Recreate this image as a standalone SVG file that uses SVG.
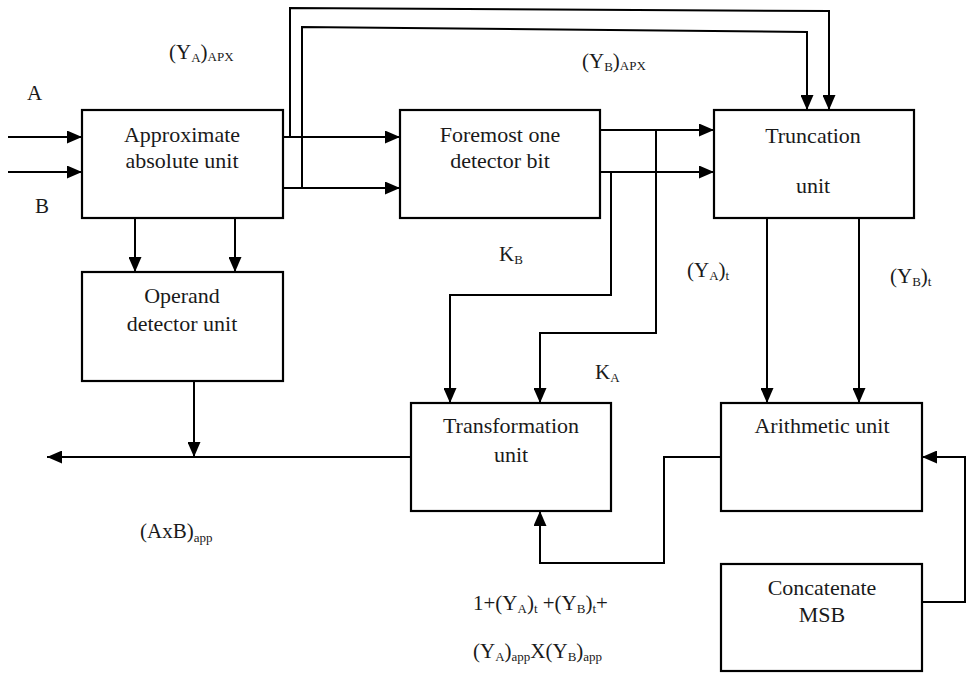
<svg xmlns="http://www.w3.org/2000/svg" width="966" height="673" viewBox="0 0 966 673">
<style>
.box{fill:#fff;stroke:#000;stroke-width:2.2}
.ln{fill:none;stroke:#000;stroke-width:2}
text{font-family:'Liberation Serif','DejaVu Serif','Times New Roman',serif;fill:#1a1a1a}
.t{font-size:22px;text-anchor:middle}
.l{font-size:21px}
.s{font-size:13px}
</style>
<defs>
<marker id="ah" viewBox="0 0 15 13" refX="15" refY="6.5" markerWidth="15" markerHeight="13" markerUnits="userSpaceOnUse" orient="auto">
<path d="M0,0 L15,6.5 L0,13 Z" fill="#000"/>
</marker>
</defs>
<rect width="966" height="673" fill="#fff"/>
<g id="connectors">
<path class="ln" d="M8,137 H82" marker-end="url(#ah)"/>
<path class="ln" d="M8,172 H82" marker-end="url(#ah)"/>
<path class="ln" d="M283,137 H400" marker-end="url(#ah)"/>
<path class="ln" d="M283,188 H400" marker-end="url(#ah)"/>
<path class="ln" d="M290,137 V8 L829,11 V110" marker-end="url(#ah)"/>
<path class="ln" d="M302,188 V27 L807,32 V110" marker-end="url(#ah)"/>
<path class="ln" d="M135,218 V272" marker-end="url(#ah)"/>
<path class="ln" d="M235,218 V272" marker-end="url(#ah)"/>
<path class="ln" d="M194,381 V457" marker-end="url(#ah)"/>
<path class="ln" d="M411,457 H47" marker-end="url(#ah)"/>
<path class="ln" d="M600,130 H714" marker-end="url(#ah)"/>
<path class="ln" d="M600,172 H714" marker-end="url(#ah)"/>
<path class="ln" d="M656,130 V333 H540 V403" marker-end="url(#ah)"/>
<path class="ln" d="M611,172 V295 H450 V403" marker-end="url(#ah)"/>
<path class="ln" d="M767,218 V403" marker-end="url(#ah)"/>
<path class="ln" d="M859,218 V403" marker-end="url(#ah)"/>
<path class="ln" d="M721,457 H664 V563 H540 V511" marker-end="url(#ah)"/>
<path class="ln" d="M922,602 H965 V457 H922" marker-end="url(#ah)"/>
</g>
<g id="approx">
<rect class="box" x="82" y="110" width="201" height="108"/>
<text class="t" x="182" y="142">Approximate</text>
<text class="t" x="182" y="168">absolute unit</text>
</g>
<g id="foremost">
<rect class="box" x="400" y="110" width="200" height="108"/>
<text class="t" x="500" y="142">Foremost one</text>
<text class="t" x="500" y="168">detector bit</text>
</g>
<g id="truncation">
<rect class="box" x="714" y="110" width="200" height="108"/>
<text class="t" x="813" y="143">Truncation</text>
<text class="t" x="813" y="193">unit</text>
</g>
<g id="operand">
<rect class="box" x="82" y="272" width="201" height="109"/>
<text class="t" x="182" y="303">Operand</text>
<text class="t" x="182" y="331">detector unit</text>
</g>
<g id="transformation">
<rect class="box" x="411" y="403" width="200" height="108"/>
<text class="t" x="511" y="433">Transformation</text>
<text class="t" x="511" y="462">unit</text>
</g>
<g id="arithmetic">
<rect class="box" x="721" y="403" width="201" height="108"/>
<text class="t" x="822" y="433">Arithmetic unit</text>
</g>
<g id="concatenate">
<rect class="box" x="721" y="564" width="201" height="107"/>
<text class="t" x="822" y="595">Concatenate</text>
<text class="t" x="822" y="622">MSB</text>
</g>
<g id="labels">
<text class="l" x="27" y="100">A</text>
<text class="l" x="35" y="213">B</text>
<text class="l" x="169" y="59">(Y<tspan class="s" dy="3">A</tspan><tspan dy="-3">)</tspan><tspan class="s" dy="2">APX</tspan></text>
<text class="l" x="582" y="68">(Y<tspan class="s" dy="3">B</tspan><tspan dy="-3">)</tspan><tspan class="s" dy="2">APX</tspan></text>
<text class="l" x="499" y="261">K<tspan class="s" dy="3">B</tspan></text>
<text class="l" x="595" y="379">K<tspan class="s" dy="3">A</tspan></text>
<text class="l" x="687" y="277">(Y<tspan class="s" dy="3">A</tspan><tspan dy="-3">)</tspan><tspan class="s" dy="3">t</tspan></text>
<text class="l" x="890" y="283">(Y<tspan class="s" dy="3">B</tspan><tspan dy="-3">)</tspan><tspan class="s" dy="3">t</tspan></text>
<text class="l" x="140" y="538">(AxB)<tspan class="s" dy="4">app</tspan></text>
<text class="l" x="473" y="610">1+(Y<tspan class="s" dy="3">A</tspan><tspan dy="-3">)</tspan><tspan class="s" dy="3">t</tspan><tspan dy="-3"> +(Y</tspan><tspan class="s" dy="3">B</tspan><tspan dy="-3">)</tspan><tspan class="s" dy="3">t</tspan><tspan dy="-3">+</tspan></text>
<text class="l" x="473" y="658">(Y<tspan class="s" dy="3">A</tspan><tspan dy="-3">)</tspan><tspan class="s" dy="3">app</tspan><tspan dy="-3">X(Y</tspan><tspan class="s" dy="3">B</tspan><tspan dy="-3">)</tspan><tspan class="s" dy="3">app</tspan></text>
</g>
</svg>
